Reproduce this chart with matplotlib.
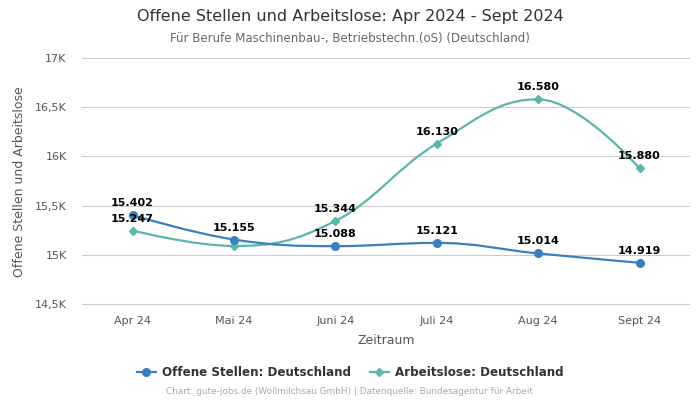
import numpy as np
import matplotlib
matplotlib.use('Agg')
import matplotlib.pyplot as plt
from matplotlib.path import Path
from matplotlib.patches import PathPatch
from matplotlib.lines import Line2D

months = ['Apr 24', 'Mai 24', 'Juni 24', 'Juli 24', 'Aug 24', 'Sept 24']
offene = [15402, 15155, 15088, 15121, 15014, 14919]
arbeitslose = [15247, 15090, 15344, 16130, 16580, 15880]
# labels hidden in the reference because they overlap (series, index)
hidden_labels = [('arb', 1)]
yticks = [14500, 15000, 15500, 16000, 16500, 17000]
ytick_labels = ['14,5K', '15K', '15,5K', '16K', '16,5K', '17K']

c_off = '#3a80be'
c_arb = '#5bb5ae'


def spline_path(xs, ys, smoothing=1.5):
  # Highcharts-style spline control points
  denom = smoothing + 1
  n = len(xs)
  left = [None] * n
  right = [None] * n
  for i in range(n):
    x, y = xs[i], ys[i]
    if i == 0 or i == n - 1:
      left[i] = (x, y)
      right[i] = (x, y)
      continue
    lx, ly = xs[i - 1], ys[i - 1]
    nx, ny = xs[i + 1], ys[i + 1]
    lcx = (smoothing * x + lx) / denom
    lcy = (smoothing * y + ly) / denom
    rcx = (smoothing * x + nx) / denom
    rcy = (smoothing * y + ny) / denom
    if rcx != lcx:
      corr = ((rcy - lcy) * (rcx - x)) / (rcx - lcx) + y - rcy
      lcy += corr
      rcy += corr
    if lcy > ly and lcy > y:
      lcy = max(ly, y)
      rcy = 2 * y - lcy
    elif lcy < ly and lcy < y:
      lcy = min(ly, y)
      rcy = 2 * y - lcy
    if rcy > ny and rcy > y:
      rcy = max(ny, y)
      lcy = 2 * y - rcy
    elif rcy < ny and rcy < y:
      rcy = min(ny, y)
      lcy = 2 * y - rcy
    left[i] = (lcx, lcy)
    right[i] = (rcx, rcy)
  verts = [(xs[0], ys[0])]
  codes = [Path.MOVETO]
  for i in range(1, n):
    verts += [right[i - 1], left[i], (xs[i], ys[i])]
    codes += [Path.CURVE4] * 3
  return Path(verts, codes)


fig = plt.figure(figsize=(7, 4), dpi=100)
ax = fig.add_axes([0.117, 0.2375, 0.869, 0.6175])

x = np.arange(len(months))
for key, vals, col, mk, ms in [('arb', arbeitslose, c_arb, 'D', 4), ('off', offene, c_off, 'o', 5.5)]:
  ax.add_patch(PathPatch(spline_path(list(x), list(vals)), facecolor='none',
                         edgecolor=col, lw=1.6, zorder=3))
  ax.plot(x, vals, linestyle='none', marker=mk, markersize=ms, color=col, zorder=4)
  for i, (xi, v) in enumerate(zip(x, vals)):
    if (key, i) in hidden_labels:
      continue
    ax.annotate('{:,}'.format(v).replace(',', '.'), (xi, v), xytext=(0, 5),
                textcoords='offset points', ha='center', va='bottom',
                fontsize=8, fontweight='bold', color='black', zorder=5)

ax.set_xlim(-0.5, len(months) - 0.5)
ax.set_ylim(14490, 17000)
ax.set_xticks(x)
ax.set_xticklabels(months, fontsize=8, color='#555555')
ax.set_yticks(yticks)
ax.set_yticklabels(ytick_labels, fontsize=8, color='#555555')
ax.tick_params(axis='x', length=0, pad=8)
ax.tick_params(axis='y', length=0, pad=11)
ax.grid(axis='y', color='#cccccc', lw=0.8)
ax.set_axisbelow(True)
for s in ax.spines.values():
  s.set_visible(False)
ax.set_xlabel('Zeitraum', fontsize=9, color='#555555', labelpad=6)
ax.set_ylabel('Offene Stellen und Arbeitslose', fontsize=9, color='#555555', labelpad=6)

fig.text(0.5, 0.958, 'Offene Stellen und Arbeitslose: Apr 2024 - Sept 2024',
         ha='center', va='center', fontsize=11.5, color='#333333')
fig.text(0.5, 0.903, 'Für Berufe Maschinenbau-, Betriebstechn.(oS) (Deutschland)',
         ha='center', va='center', fontsize=8.5, color='#666666')

handles = [Line2D([], [], color=c_off, marker='o', markersize=5.5, lw=1.6),
           Line2D([], [], color=c_arb, marker='D', markersize=4, lw=1.6)]
leg = fig.legend(handles, ['Offene Stellen: Deutschland', 'Arbeitslose: Deutschland'],
                 loc='center', bbox_to_anchor=(0.5, 0.068), ncol=2, frameon=False,
                 prop={'weight': 'bold', 'size': 8.6}, handlelength=1.6,
                 columnspacing=1.6, handletextpad=0.5)
for t in leg.get_texts():
  t.set_color('#333333')

fig.text(0.5, 0.02, 'Chart: gute-jobs.de (Wollmilchsau GmbH) | Datenquelle: Bundesagentur für Arbeit',
         ha='center', va='center', fontsize=6.4, color='#aaaaaa')

fig.savefig('out.png', dpi=100)
